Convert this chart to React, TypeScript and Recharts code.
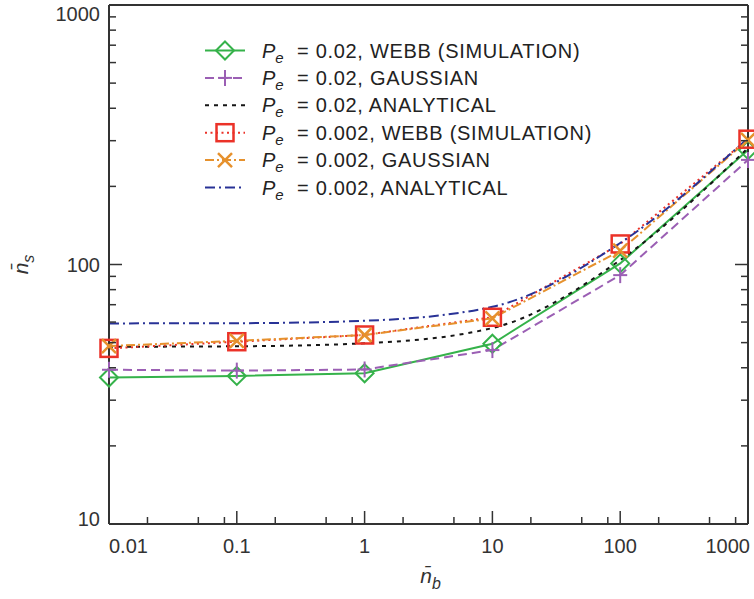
import React from "react";
import { LineChart, Line, XAxis, YAxis, Legend } from "recharts";

// mean background count (x) and mean signal count (y) for each series
const nbValues = [0.01, 0.1, 1, 10, 100, 1000];
const webb002 = [36.7, 37.2, 38.1, 49.5, 101, 276];
const gauss002 = [39.3, 39.0, 39.4, 46.8, 91, 253];
const anal002 = [48.2, 48.4, 49.7, 56.9, 104, 281];
const webb0002 = [47.5, 50.4, 53.5, 62.6, 120, 304];
const gauss0002 = [48.5, 50.8, 53.5, 62, 113, 302];
const anal0002 = [59.3, 59.4, 60.7, 68.7, 121, 307];

const xMajor = [0.01, 0.1, 1, 10, 100, 1000];
const xMajorLabels = ["0.01", "0.1", "1", "10", "100", "1000"];
const xMinor = [0.02, 0.05, 0.08, 0.2, 0.5, 0.8, 2, 5, 8, 20, 50, 80, 200, 500, 800];
const yMajor = [10, 100, 1000];
const yMajorLabels = ["10", "100", "1000"];
const yMinor = [20, 30, 40, 50, 60, 70, 80, 90, 200, 300, 400, 500, 600, 700, 800, 900];

const legendTexts = [
  "= 0.02, WEBB (SIMULATION)",
  "= 0.02, GAUSSIAN",
  "= 0.02, ANALYTICAL",
  "= 0.002, WEBB (SIMULATION)",
  "= 0.002, GAUSSIAN",
  "= 0.002, ANALYTICAL",
];

const rows = nbValues.map((nb, i) => ({
  nb,
  webb002: webb002[i],
  gauss002: gauss002[i],
  anal002: anal002[i],
  webb0002: webb0002[i],
  gauss0002: gauss0002[i],
  anal0002: anal0002[i],
}));

const series = [
  { key: "webb002", color: "#35b24a", dash: undefined, marker: "diamond", curve: "linear" },
  { key: "gauss002", color: "#9b5fb4", dash: "9 5", marker: "plus", curve: "linear" },
  { key: "anal002", color: "#151515", dash: "4 5", marker: null, curve: "monotone" },
  { key: "webb0002", color: "#eb3228", dash: "2 3.5", marker: "square", curve: "linear" },
  { key: "gauss0002", color: "#e6912d", dash: "9 3 2 3", marker: "cross", curve: "linear" },
  { key: "anal0002", color: "#283296", dash: "10 4 2 4", marker: null, curve: "monotone" },
];

const AXIS = "#333";
const FONT = "'Liberation Sans', Arial, Helvetica, sans-serif";
const xTicks = [...xMajor, ...xMinor].sort((a, b) => a - b);
const yTicks = [...yMajor, ...yMinor].sort((a, b) => a - b);

function Marker({ kind, cx, cy, color }: any) {
  if (kind === "diamond")
    return (
      <polygon
        points={`${cx},${cy - 9} ${cx + 9},${cy} ${cx},${cy + 9} ${cx - 9},${cy}`}
        fill="none"
        stroke={color}
        strokeWidth={2}
      />
    );
  if (kind === "plus")
    return (
      <g stroke={color} strokeWidth={2}>
        <line x1={cx - 7} y1={cy} x2={cx + 7} y2={cy} />
        <line x1={cx} y1={cy - 8} x2={cx} y2={cy + 8} />
      </g>
    );
  if (kind === "square")
    return (
      <rect x={cx - 8.5} y={cy - 8.5} width={17} height={17} fill="none" stroke={color} strokeWidth={2.5} />
    );
  if (kind === "cross")
    return (
      <g stroke={color} strokeWidth={2.5}>
        <line x1={cx - 7} y1={cy - 7} x2={cx + 7} y2={cy + 7} />
        <line x1={cx - 7} y1={cy + 7} x2={cx + 7} y2={cy - 7} />
      </g>
    );
  return null;
}

function XTick(props: any) {
  const { x, y, payload, side } = props;
  const v = payload.value;
  const idx = xMajor.indexOf(v);
  const len = idx >= 0 ? 13 : 7;
  const dir = side === "bottom" ? -1 : 1;
  let anchor = "middle";
  if (v === 0.01) anchor = "start";
  if (v === 1000) anchor = "end";
  return (
    <g>
      <line x1={x} y1={y} x2={x} y2={y + dir * len} stroke={AXIS} strokeWidth={1.5} />
      {side === "bottom" && idx >= 0 && (
        <text x={v === 1000 ? x + 2 : x} y={y + 29} textAnchor={anchor} fontSize={20} fontFamily={FONT} fill={AXIS}>
          {xMajorLabels[idx]}
        </text>
      )}
    </g>
  );
}

function YTick(props: any) {
  const { x, y, payload, side } = props;
  const v = payload.value;
  const idx = yMajor.indexOf(v);
  const len = idx >= 0 ? 13 : 7;
  const dir = side === "left" ? 1 : -1;
  const shift = v === 1000 ? 9 : v === 10 ? -5.5 : 0;
  return (
    <g>
      <line x1={x} y1={y} x2={x + dir * len} y2={y} stroke={AXIS} strokeWidth={1.5} />
      {side === "left" && idx >= 0 && (
        <text x={x - 9} y={y + 7 + shift} textAnchor="end" fontSize={20} fontFamily={FONT} fill={AXIS}>
          {yMajorLabels[idx]}
        </text>
      )}
    </g>
  );
}

function XLabel(props: any) {
  const vb = props.viewBox || { x: 109, y: 524, width: 639, height: 75 };
  return (
    <text x={vb.x + vb.width / 2 + 2} y={vb.y + 59} textAnchor="middle" fontSize={21} fontFamily={FONT} fill={AXIS}>
      <tspan fontStyle="italic">{"n\u0304"}</tspan>
      <tspan fontStyle="italic" fontSize={16} dy={6}>b</tspan>
    </text>
  );
}

function YLabel(props: any) {
  const vb = props.viewBox || { x: 0, y: 5, width: 109, height: 519 };
  const cx = vb.x + 28;
  const cy = vb.y + vb.height / 2;
  return (
    <text
      x={cx}
      y={cy}
      transform={`rotate(-90, ${cx}, ${cy})`}
      textAnchor="middle"
      fontSize={21}
      fontFamily={FONT}
      fill={AXIS}
    >
      <tspan fontStyle="italic">{"n\u0304"}</tspan>
      <tspan fontStyle="italic" fontSize={16} dy={6}>s</tspan>
    </text>
  );
}

function LegendBox() {
  return (
    <svg width={440} height={172} style={{ display: "block", overflow: "visible" }}>
      {series.map((s, i) => {
        const cy = 20.5 + 27.4 * i;
        return (
          <g key={s.key}>
            <line x1={10} y1={cy} x2={50} y2={cy} stroke={s.color} strokeWidth={2} strokeDasharray={s.dash} />
            {s.marker && <Marker kind={s.marker} cx={30} cy={cy} color={s.color} />}
            <text y={cy + 7} fontSize={20} fontFamily={FONT} fill="#222">
              <tspan x={67} fontStyle="italic">P</tspan>
              <tspan fontStyle="italic" fontSize={15} dy={5}>e</tspan>
              <tspan x={102} dy={-5} letterSpacing={0.7}>{legendTexts[i]}</tspan>
            </text>
          </g>
        );
      })}
    </svg>
  );
}

export default function App() {
  return (
    <div style={{ position: "absolute", left: 0, top: 0, width: 754, height: 599, background: "#fff" }}>
      <LineChart width={754} height={599} data={rows} margin={{ top: 4, right: 5, bottom: 0, left: 0 }}>
        <XAxis
          xAxisId="b"
          dataKey="nb"
          type="number"
          scale="log"
          domain={[0.01, 1000]}
          ticks={xTicks}
          interval={0}
          height={75}
          tickSize={0}
          tickMargin={0}
          tickLine={false}
          axisLine={{ stroke: AXIS, strokeWidth: 2 }}
          tick={<XTick side="bottom" />}
          label={{ content: XLabel }}
        />
        <XAxis
          xAxisId="t"
          orientation="top"
          type="number"
          scale="log"
          domain={[0.01, 1000]}
          allowDataOverflow
          ticks={xTicks}
          interval={0}
          height={1}
          tickSize={0}
          tickMargin={0}
          tickLine={false}
          axisLine={{ stroke: AXIS, strokeWidth: 2 }}
          tick={<XTick side="top" />}
        />
        <YAxis
          yAxisId="l"
          type="number"
          scale="log"
          domain={[10, 1000]}
          ticks={yTicks}
          interval={0}
          width={109}
          tickSize={0}
          tickMargin={0}
          tickLine={false}
          axisLine={{ stroke: AXIS, strokeWidth: 2 }}
          tick={<YTick side="left" />}
          label={{ content: YLabel }}
        />
        <YAxis
          yAxisId="r"
          orientation="right"
          type="number"
          scale="log"
          domain={[10, 1000]}
          allowDataOverflow
          ticks={yTicks}
          interval={0}
          width={1}
          tickSize={0}
          tickMargin={0}
          tickLine={false}
          axisLine={{ stroke: AXIS, strokeWidth: 2 }}
          tick={<YTick side="right" />}
        />
        {series.map((s) => (
          <Line
            key={s.key}
            xAxisId="b"
            yAxisId="l"
            dataKey={s.key}
            type={s.curve as any}
            stroke={s.color}
            strokeWidth={2}
            strokeDasharray={s.dash}
            isAnimationActive={false}
            activeDot={false}
            dot={
              s.marker
                ? (p: any) => <Marker key={`${s.key}-${p.index}`} kind={s.marker} cx={p.cx} cy={p.cy} color={s.color} />
                : false
            }
          />
        ))}
        <Legend
          layout="vertical"
          align="center"
          verticalAlign="middle"
          wrapperStyle={{ left: 195, top: 30, width: 440 }}
          content={() => <LegendBox />}
        />
      </LineChart>
    </div>
  );
}
